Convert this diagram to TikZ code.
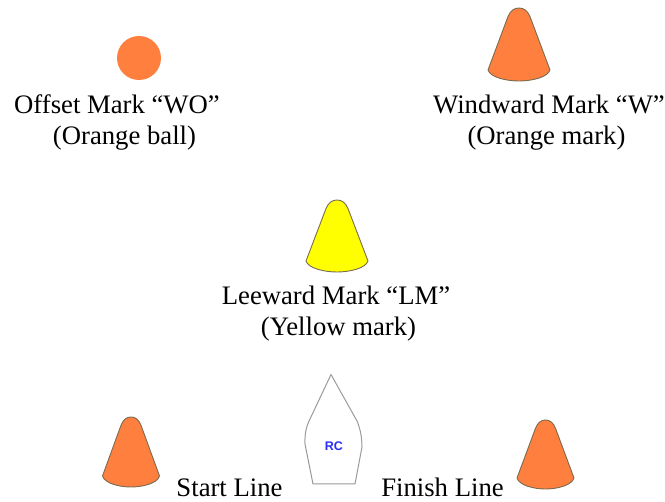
\documentclass[tikz,border=0pt]{standalone}
\usepackage{fontspec}
\setmainfont{Liberation Serif}
\newfontfamily\sansrc{Liberation Sans}
\definecolor{markorange}{HTML}{FF7F3F}
\definecolor{markyellow}{HTML}{FFFF00}
\definecolor{conerim}{HTML}{7A6A50}
\definecolor{boatline}{HTML}{9A9A9A}
\definecolor{rcblue}{HTML}{2C2CF5}
\tikzset{
  conemark/.style={draw=conerim,line width=0.9pt,line join=round},
  label/.style={font=\fontsize{26.7}{32}\selectfont,anchor=base,inner sep=0pt,text=black},
  pics/cone/.style n args={3}{code={
    % origin = top centre; #1 half width, #2 height, #3 fill
    \draw[conemark,fill=#3]
      (-#1,#2-11) -- (-#1*0.36,9)
      .. controls (-#1*0.28,2.5) and (-#1*0.15,0) .. (0,0)
      .. controls (#1*0.15,0) and (#1*0.28,2.5) .. (#1*0.36,9)
      -- (#1,#2-11)
      .. controls (#1*0.92,#2-3.5) and (#1*0.4,#2) .. (0,#2)
      .. controls (-#1*0.4,#2) and (-#1*0.92,#2-3.5) .. (-#1,#2-11) -- cycle;
  }}
}
\begin{document}
\begin{tikzpicture}[x=1pt,y=-1pt]
\useasboundingbox (0,0) rectangle (665,502);
\fill[markorange] (139,58) circle (22);
\path (519,8) pic {cone={31}{73}{markorange}};
\path (337,200) pic {cone={31}{72}{markyellow}};
\path (131,417) pic {cone={28.5}{70}{markorange}};
\path (545.5,420) pic {cone={28.5}{69}{markorange}};
\node[label] (wo) at (117,114) {Offset Mark “WO”};
\node[label] (woball) at (124.5,145) {(Orange ball)};
\node[label] (w) at (549,114) {Windward Mark “W”};
\node[label] (wmark) at (546.5,145) {(Orange mark)};
\node[label] (lm) at (336,305) {Leeward Mark “LM”};
\node[label] (lmmark) at (338.5,336) {(Yellow mark)};
\node[label] (start) at (229.5,497) {Start Line};
\node[label] (finish) at (442.5,497) {Finish Line};
\draw[boatline,line width=1pt,line join=round]
  (331,374.5) -- (357,421) .. controls (360,428) and (362,437) .. (362,447)
  -- (355,484) -- (313,484) -- (305,444) .. controls (304.5,432) and (307,425) .. (310,419) -- cycle;
\node[font=\sansrc\bfseries\fontsize{12.5}{14}\selectfont,text=rcblue,inner sep=0pt] (rc) at (334,446) {RC};
\end{tikzpicture}
\end{document}
